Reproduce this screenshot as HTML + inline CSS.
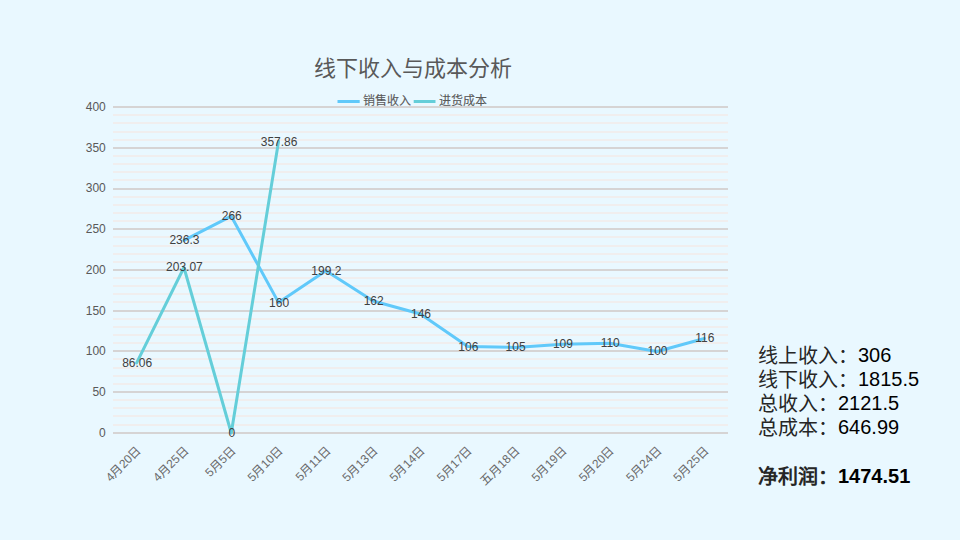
<!DOCTYPE html>
<html lang="zh-CN"><head><meta charset="utf-8"><style>
html,body{margin:0;padding:0;}
body{width:960px;height:540px;background:#E9F8FF;overflow:hidden;position:relative;font-family:"Liberation Sans",sans-serif;}
svg{position:absolute;left:0;top:0;}
.ax{font-size:12px;fill:#595959;}
.dl{font-size:12px;fill:#404040;}
.xl{font-size:12px;fill:#6A6A6A;}
.title{font-size:22px;fill:#595959;}
.lg{font-size:12px;fill:#595959;stroke:#595959;stroke-width:0.1px;}
.info{position:absolute;left:758px;top:343px;font-size:20px;line-height:24px;color:#000;white-space:nowrap;}
.info b{display:block;margin-top:25px;}
.info i{font-style:normal;position:relative;top:1px;color:#262626;}
</style></head><body>
<svg width="960" height="540" viewBox="0 0 960 540">
<text x="413" y="76" text-anchor="middle" class="title">线下收入与成本分析</text>
<rect x="113.0" width="615.0" y="114" height="2" fill="#F0EEEE"/>
<rect x="113.0" width="615.0" y="122" height="2" fill="#F0EEEE"/>
<rect x="113.0" width="615.0" y="131" height="2" fill="#F0EEEE"/>
<rect x="113.0" width="615.0" y="139" height="2" fill="#F0EEEE"/>
<rect x="113.0" width="615.0" y="155" height="2" fill="#F0EEEE"/>
<rect x="113.0" width="615.0" y="163" height="2" fill="#F0EEEE"/>
<rect x="113.0" width="615.0" y="171" height="2" fill="#F0EEEE"/>
<rect x="113.0" width="615.0" y="179" height="2" fill="#F0EEEE"/>
<rect x="113.0" width="615.0" y="196" height="2" fill="#F0EEEE"/>
<rect x="113.0" width="615.0" y="204" height="2" fill="#F0EEEE"/>
<rect x="113.0" width="615.0" y="212" height="2" fill="#F0EEEE"/>
<rect x="113.0" width="615.0" y="220" height="2" fill="#F0EEEE"/>
<rect x="113.0" width="615.0" y="236" height="2" fill="#F0EEEE"/>
<rect x="113.0" width="615.0" y="245" height="2" fill="#F0EEEE"/>
<rect x="113.0" width="615.0" y="253" height="2" fill="#F0EEEE"/>
<rect x="113.0" width="615.0" y="261" height="2" fill="#F0EEEE"/>
<rect x="113.0" width="615.0" y="277" height="2" fill="#F0EEEE"/>
<rect x="113.0" width="615.0" y="285" height="2" fill="#F0EEEE"/>
<rect x="113.0" width="615.0" y="293" height="2" fill="#F0EEEE"/>
<rect x="113.0" width="615.0" y="301" height="2" fill="#F0EEEE"/>
<rect x="113.0" width="615.0" y="318" height="2" fill="#F0EEEE"/>
<rect x="113.0" width="615.0" y="326" height="2" fill="#F0EEEE"/>
<rect x="113.0" width="615.0" y="334" height="2" fill="#F0EEEE"/>
<rect x="113.0" width="615.0" y="342" height="2" fill="#F0EEEE"/>
<rect x="113.0" width="615.0" y="358" height="2" fill="#F0EEEE"/>
<rect x="113.0" width="615.0" y="367" height="2" fill="#F0EEEE"/>
<rect x="113.0" width="615.0" y="375" height="2" fill="#F0EEEE"/>
<rect x="113.0" width="615.0" y="383" height="2" fill="#F0EEEE"/>
<rect x="113.0" width="615.0" y="399" height="2" fill="#F0EEEE"/>
<rect x="113.0" width="615.0" y="407" height="2" fill="#F0EEEE"/>
<rect x="113.0" width="615.0" y="415" height="2" fill="#F0EEEE"/>
<rect x="113.0" width="615.0" y="424" height="2" fill="#F0EEEE"/>
<rect x="113.0" width="615.0" y="432" height="2" fill="#D6D4D4"/>
<text x="105.8" y="437" text-anchor="end" class="ax">0</text>
<rect x="113.0" width="615.0" y="391" height="2" fill="#D6D4D4"/>
<text x="105.8" y="396" text-anchor="end" class="ax">50</text>
<rect x="113.0" width="615.0" y="350" height="2" fill="#D6D4D4"/>
<text x="105.8" y="355" text-anchor="end" class="ax">100</text>
<rect x="113.0" width="615.0" y="310" height="2" fill="#D6D4D4"/>
<text x="105.8" y="315" text-anchor="end" class="ax">150</text>
<rect x="113.0" width="615.0" y="269" height="2" fill="#D6D4D4"/>
<text x="105.8" y="274" text-anchor="end" class="ax">200</text>
<rect x="113.0" width="615.0" y="228" height="2" fill="#D6D4D4"/>
<text x="105.8" y="233" text-anchor="end" class="ax">250</text>
<rect x="113.0" width="615.0" y="188" height="2" fill="#D6D4D4"/>
<text x="105.8" y="192" text-anchor="end" class="ax">300</text>
<rect x="113.0" width="615.0" y="147" height="2" fill="#D6D4D4"/>
<text x="105.8" y="152" text-anchor="end" class="ax">350</text>
<rect x="113.0" width="615.0" y="106" height="2" fill="#D6D4D4"/>
<text x="105.8" y="111" text-anchor="end" class="ax">400</text>
<polyline points="183.96,240.42 231.27,216.21 278.58,302.60 325.88,270.65 373.19,300.97 420.50,314.01 467.81,346.61 515.12,347.43 562.42,344.17 609.73,343.35 657.04,351.50 704.35,338.46" fill="none" stroke="#60C9FA" stroke-width="3" stroke-linejoin="round" stroke-linecap="round"/>
<polyline points="136.65,362.86 183.96,267.50 231.27,433.00 278.58,141.34" fill="none" stroke="#64CED9" stroke-width="3" stroke-linejoin="round" stroke-linecap="round"/>
<text x="137.15" y="367" text-anchor="middle" class="dl">86.06</text>
<text x="184.46" y="271" text-anchor="middle" class="dl">203.07</text>
<text x="231.77" y="437" text-anchor="middle" class="dl">0</text>
<text x="279.08" y="146" text-anchor="middle" class="dl">357.86</text>
<text x="184.46" y="244" text-anchor="middle" class="dl">236.3</text>
<text x="231.77" y="220" text-anchor="middle" class="dl">266</text>
<text x="279.08" y="307" text-anchor="middle" class="dl">160</text>
<text x="326.38" y="275" text-anchor="middle" class="dl">199.2</text>
<text x="373.69" y="305" text-anchor="middle" class="dl">162</text>
<text x="421.00" y="318" text-anchor="middle" class="dl">146</text>
<text x="468.31" y="351" text-anchor="middle" class="dl">106</text>
<text x="515.62" y="351" text-anchor="middle" class="dl">105</text>
<text x="562.92" y="348" text-anchor="middle" class="dl">109</text>
<text x="610.23" y="347" text-anchor="middle" class="dl">110</text>
<text x="657.54" y="355" text-anchor="middle" class="dl">100</text>
<text x="704.85" y="342" text-anchor="middle" class="dl">116</text>
<text transform="translate(136.15,445.5) rotate(-45)" text-anchor="end" class="xl" dy="8">4月20日</text>
<text transform="translate(183.46,445.5) rotate(-45)" text-anchor="end" class="xl" dy="8">4月25日</text>
<text transform="translate(230.77,445.5) rotate(-45)" text-anchor="end" class="xl" dy="8">5月5日</text>
<text transform="translate(278.08,445.5) rotate(-45)" text-anchor="end" class="xl" dy="8">5月10日</text>
<text transform="translate(325.38,445.5) rotate(-45)" text-anchor="end" class="xl" dy="8">5月11日</text>
<text transform="translate(372.69,445.5) rotate(-45)" text-anchor="end" class="xl" dy="8">5月13日</text>
<text transform="translate(420.00,445.5) rotate(-45)" text-anchor="end" class="xl" dy="8">5月14日</text>
<text transform="translate(467.31,445.5) rotate(-45)" text-anchor="end" class="xl" dy="8">5月17日</text>
<text transform="translate(514.62,445.5) rotate(-45)" text-anchor="end" class="xl" dy="8">五月18日</text>
<text transform="translate(561.92,445.5) rotate(-45)" text-anchor="end" class="xl" dy="8">5月19日</text>
<text transform="translate(609.23,445.5) rotate(-45)" text-anchor="end" class="xl" dy="8">5月20日</text>
<text transform="translate(656.54,445.5) rotate(-45)" text-anchor="end" class="xl" dy="8">5月24日</text>
<text transform="translate(703.85,445.5) rotate(-45)" text-anchor="end" class="xl" dy="8">5月25日</text>
<line x1="337.5" x2="359.7" y1="101.5" y2="101.5" stroke="#60C9FA" stroke-width="3"/>
<text x="362.5" y="105" class="lg">销售收入</text>
<line x1="413.7" x2="435.5" y1="101.5" y2="101.5" stroke="#64CED9" stroke-width="3"/>
<text x="438.7" y="105" class="lg">进货成本</text>
</svg>
<div class="info"><i>线上收入：</i>306<br><i>线下收入：</i>1815.5<br><i>总收入：</i>2121.5<br><i>总成本：</i>646.99<b><i>净利润：</i>1474.51</b></div>
</body></html>
